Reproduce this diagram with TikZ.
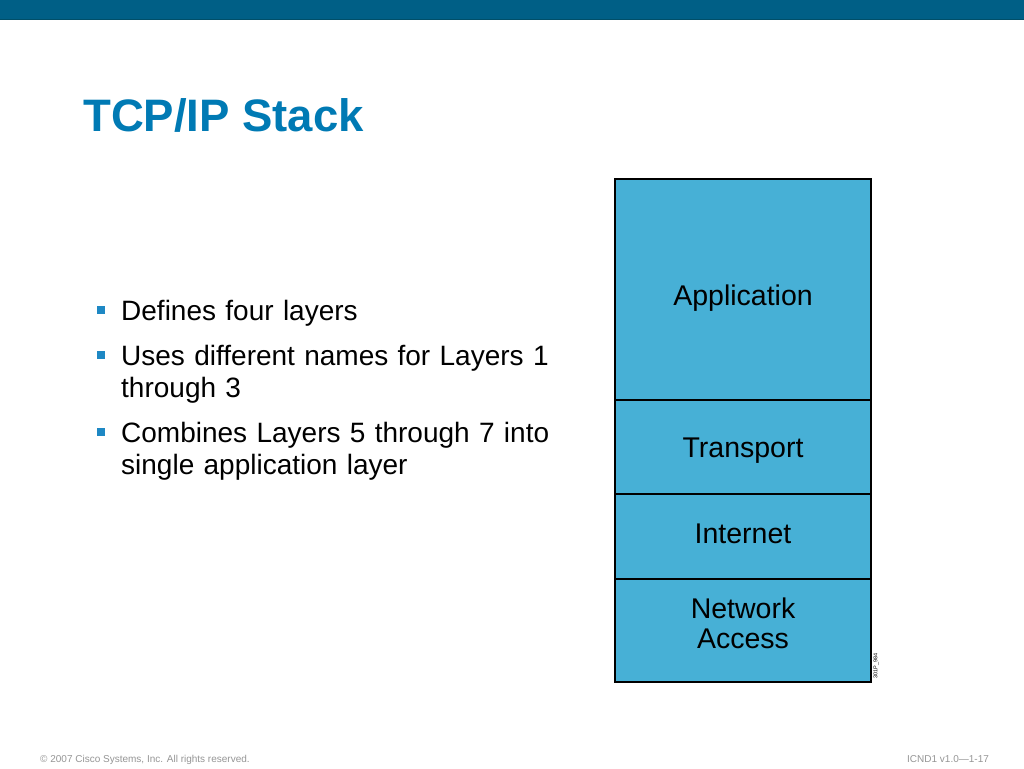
\documentclass[tikz,border=0pt]{standalone}
\usepackage{fontspec}
\setmainfont{Liberation Sans}
\usetikzlibrary{positioning}
\definecolor{bandblue}{RGB}{0,95,134}
\definecolor{bandline}{RGB}{0,78,104}
\definecolor{titleblue}{RGB}{0,122,180}
\definecolor{bulletblue}{RGB}{30,136,196}
\definecolor{layerfill}{RGB}{71,176,214}
\definecolor{footgrey}{RGB}{150,150,150}
\begin{document}
\begin{tikzpicture}[x=1pt,y=-1pt,
    layer/.style ={rectangle, draw=black, line width=1.5pt, fill=layerfill,
      minimum width=256pt, outer sep=0pt, align=center,
      font={\fontsize{28.5}{30.5}\selectfont}},
    item/.style ={anchor=base west, text width=440pt, align=left, inner sep=0pt,
      font={\fontsize{28}{32.5}\selectfont}},
    square/.style ={rectangle, fill=bulletblue, inner sep=0pt, minimum size=8pt},
    foot/.style ={anchor=base west, inner sep=0pt, text=footgrey,
      font={\fontsize{10}{12}\selectfont}}]
  \useasboundingbox (0,0) rectangle (1024,768);
  \fill[white] (0,0) rectangle (1024,768);
  % top band
  \fill[bandblue] (0,0) rectangle (1024,19);
  \fill[bandline] (0,19) rectangle (1024,20.5);
  % title
  \node[anchor=base west, inner sep=0pt, text=titleblue,
    font={\fontsize{45.5}{50}\bfseries\selectfont}] (title) at (83,131) {TCP/IP Stack};
  % bullets
  \node[item] (p1) at (121,320) {Defines four layers};
  \node[item] (p2) at (121,365) {Uses different names for Layers 1 through 3};
  \node[item] (p3) at (121,442) {Combines Layers 5 through 7 into single application layer};
  \foreach \y [count=\i] in {310,355,432}
    \node[square] (s\i) at (101,\y) {};
  % layer stack
  \node[layer, anchor=north, minimum height=221pt, text height=37pt] (app) at (743,179) {Application};
  \node[layer, below=0pt of app, minimum height=94pt, text height=26.5pt] (trans) {Transport};
  \node[layer, below=0pt of trans, minimum height=85pt, text depth=6pt] (inet) {Internet};
  \node[layer, below=0pt of inet, minimum height=103pt, text depth=15pt] (netacc) {Network\\Access};
  \node[rotate=90, inner sep=0pt, font={\fontsize{5.5}{6}\selectfont}]
    (code) at (876,666) {301P\_984};
  % footer
  \node[foot] (copy) at (40,762) {\textcopyright{} 2007 Cisco Systems, Inc. All rights reserved.};
  \node[foot] (slide) at (907,762) {ICND1 v1.0---1-17};
\end{tikzpicture}
\end{document}
